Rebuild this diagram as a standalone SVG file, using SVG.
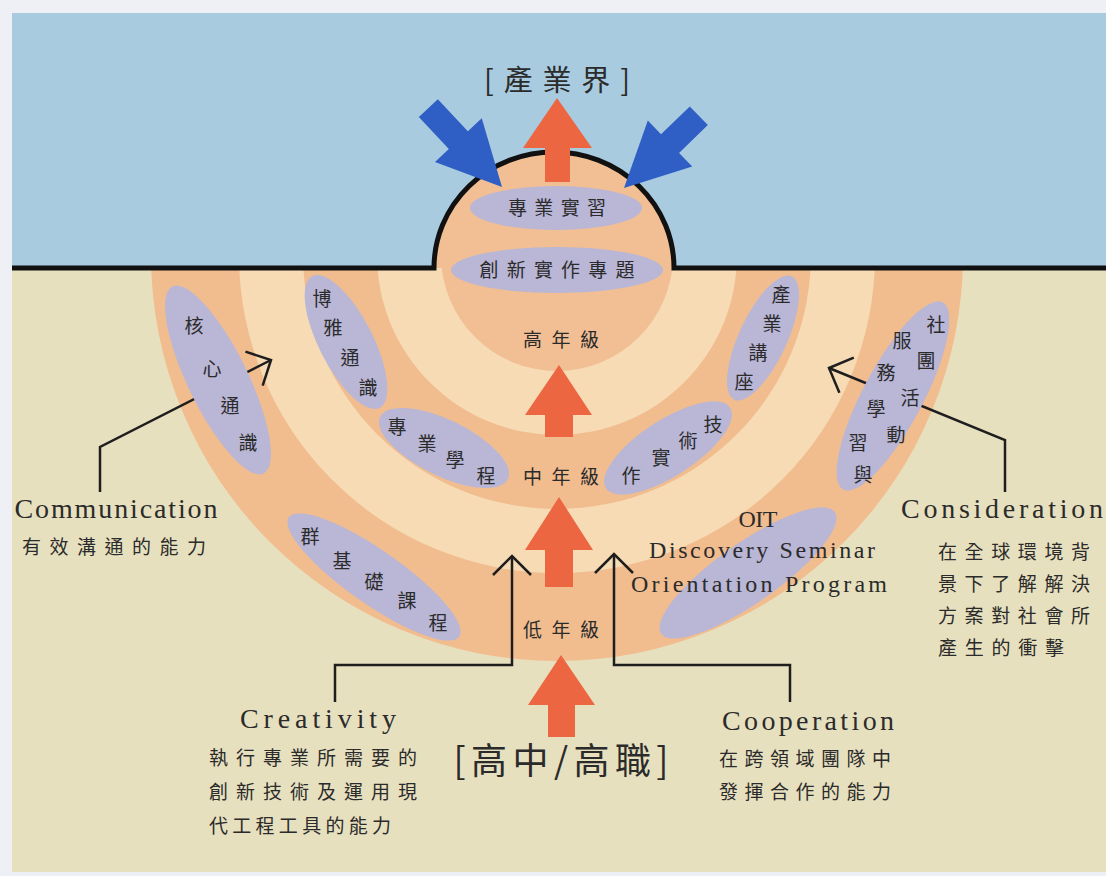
<svg xmlns="http://www.w3.org/2000/svg" width="1106" height="876" viewBox="0 0 1106 876">
<style>
.cjk{font-family:"Noto Sans CJK TC","Noto Sans CJK SC",sans-serif;fill:#2b2b2b}
.lat{font-family:"Liberation Serif",serif;fill:#2b2b2b}
.ch{font-family:"Noto Sans CJK TC","Noto Sans CJK SC",sans-serif;fill:#2b2b2b;font-size:19px;text-anchor:middle;dominant-baseline:central}
.ell{fill:#b9b6d6}
.conn{fill:none;stroke:#1e1e1e;stroke-width:2.5;marker-end:url(#chev)}
.up{fill:#ec6641}
.blue{fill:#2f5fc4}
.orange{fill:#f1bd8f}
.light{fill:#f6dbb5}
</style>
<defs>
<marker id="chev" markerUnits="userSpaceOnUse" viewBox="-25 -25 30 50" markerWidth="30" markerHeight="50" refX="0" refY="0" orient="auto">
<path d="M-19,-19 L0,0 L-19,19" fill="none" stroke="#1e1e1e" stroke-width="2.5"/>
</marker>
<clipPath id="below"><rect x="12" y="268" width="1094" height="604"/></clipPath>
</defs>
<rect width="1106" height="876" fill="#eef0f5"/>
<rect x="12" y="268" width="1094" height="604" fill="#e7e0bf"/>
<g id="rings" clip-path="url(#below)">
<circle cx="557" cy="255" r="406" class="orange"/>
<circle cx="557" cy="255" r="318" class="light"/>
<circle cx="557" cy="255" r="254" class="orange"/>
<circle cx="557" cy="255" r="180" class="light"/>
<circle cx="557" cy="255" r="116" fill="#f2bf94"/>
</g>
<rect x="12" y="13" width="1094" height="255" fill="#a9cbe0"/>
<path d="M434,268 A120,116 0 0 1 674,268 Z" fill="#f2bf94"/>
<path d="M12,268 H434 A120,116 0 0 1 674,268 H1106" fill="none" stroke="#111" stroke-width="5"/>

<g id="connectors">
<path class="conn" d="M100,492 V447 L271,360"/>
<path class="conn" d="M1005,492 V440 L829,368"/>
<path class="conn" d="M335,702 V665 H512 V556"/>
<path class="conn" d="M790,702 V665 H614 V554"/>
</g>

<g id="flow-arrows">
<polygon class="up" points="557,98 592,148 570,148 570,182 545,182 545,148 523,148"/>
<polygon class="up" points="559,365 592,415 573,415 573,437 545,437 545,415 525,415"/>
<polygon class="up" points="559,497 593,550 573,550 573,587 545,587 545,550 525,550"/>
<polygon class="up" points="561,655 595,705 575,705 575,737 548,737 548,705 528,705"/>
<path class="blue" transform="translate(502,187) rotate(47)" d="M0,0 L-64,-32 L-64,-13 L-108,-13 L-108,13 L-64,13 L-64,32 Z"/>
<path class="blue" transform="translate(624,188) rotate(136)" d="M0,0 L-64,-32 L-64,-13 L-104,-13 L-104,13 L-64,13 L-64,32 Z"/>
</g>

<g id="industry">
<text class="cjk" x="557" y="91" font-size="29" text-anchor="middle" textLength="146" lengthAdjust="spacing">[產業界]</text>
</g>
<g id="internship">
<ellipse class="ell" cx="556" cy="208" rx="86" ry="22"/>
<text class="cjk" x="557" y="215" font-size="19" text-anchor="middle" textLength="98" lengthAdjust="spacing">專業實習</text>
</g>
<g id="capstone">
<ellipse class="ell" cx="557" cy="270" rx="106" ry="23"/>
<text class="cjk" x="557" y="277" font-size="19" text-anchor="middle" textLength="155" lengthAdjust="spacing">創新實作專題</text>
</g>
<g id="senior">
<text class="cjk" x="561" y="347" font-size="19" text-anchor="middle" textLength="76" lengthAdjust="spacing">高年級</text>
</g>
<g id="junior">
<text class="cjk" x="561" y="484" font-size="19" text-anchor="middle" textLength="76" lengthAdjust="spacing">中年級</text>
</g>
<g id="freshman">
<text class="cjk" x="561" y="637" font-size="19" text-anchor="middle" textLength="76" lengthAdjust="spacing">低年級</text>
</g>
<g id="highschool">
<text class="cjk" x="561" y="774" font-size="36" text-anchor="middle" textLength="215" lengthAdjust="spacing">[高中/高職]</text>
</g>

<g id="core-general">
<ellipse class="ell" cx="218" cy="380" rx="104" ry="30" transform="rotate(64 218 380)"/>
<text class="ch" x="194" y="324">核</text>
<text class="ch" x="212" y="367">心</text>
<text class="ch" x="230" y="404">通</text>
<text class="ch" x="248" y="441">識</text>
</g>
<g id="liberal">
<ellipse class="ell" cx="346" cy="342" rx="74" ry="27" transform="rotate(63 346 342)"/>
<text class="ch" x="322" y="297">博</text>
<text class="ch" x="333" y="326">雅</text>
<text class="ch" x="350" y="356">通</text>
<text class="ch" x="368" y="386">識</text>
</g>
<g id="program">
<ellipse class="ell" cx="444" cy="448" rx="71" ry="28" transform="rotate(26 444 448)"/>
<text class="ch" x="397" y="425">專</text>
<text class="ch" x="427" y="442">業</text>
<text class="ch" x="455" y="458">學</text>
<text class="ch" x="486" y="474">程</text>
</g>
<g id="lecture">
<ellipse class="ell" cx="763" cy="338" rx="68" ry="24" transform="rotate(-65 763 338)"/>
<text class="ch" x="781" y="293">產</text>
<text class="ch" x="772" y="322">業</text>
<text class="ch" x="758" y="351">講</text>
<text class="ch" x="744" y="380">座</text>
</g>
<g id="practice">
<ellipse class="ell" cx="668" cy="448" rx="74" ry="28" transform="rotate(-33 668 448)"/>
<text class="ch" x="713" y="423">技</text>
<text class="ch" x="688" y="439">術</text>
<text class="ch" x="661" y="456">實</text>
<text class="ch" x="631" y="474">作</text>
</g>
<g id="club-service">
<ellipse class="ell" cx="893" cy="396" rx="106" ry="30" transform="rotate(-62 893 396)"/>
<text class="ch" x="936" y="323">社</text>
<text class="ch" x="926" y="359">團</text>
<text class="ch" x="910" y="396">活</text>
<text class="ch" x="896" y="433">動</text>
<text class="ch" x="863" y="473">與</text>
<text class="ch" x="902" y="339">服</text>
<text class="ch" x="886" y="371">務</text>
<text class="ch" x="876" y="407">學</text>
<text class="ch" x="858" y="441">習</text>
</g>
<g id="foundation">
<ellipse class="ell" cx="374" cy="577" rx="104" ry="27" transform="rotate(35 374 577)"/>
<text class="ch" x="310" y="535">群</text>
<text class="ch" x="342" y="559">基</text>
<text class="ch" x="374" y="580">礎</text>
<text class="ch" x="407" y="599">課</text>
<text class="ch" x="438" y="621">程</text>
</g>
<g id="oit">
<ellipse class="ell" cx="748" cy="573" rx="106" ry="30" transform="rotate(-35 748 573)"/>
<text class="lat" x="758" y="527" font-size="24" text-anchor="middle" textLength="39" lengthAdjust="spacing">OIT</text>
<text class="lat" x="762" y="558" font-size="24" text-anchor="middle" textLength="226" lengthAdjust="spacing">Discovery Seminar</text>
<text class="lat" x="759" y="592" font-size="24" text-anchor="middle" textLength="256" lengthAdjust="spacing">Orientation Program</text>
</g>

<g id="communication">
<text class="lat" x="116" y="518" font-size="28" text-anchor="middle" textLength="203" lengthAdjust="spacing">Communication</text>
<text class="cjk" x="114" y="554" font-size="19" text-anchor="middle" textLength="184" lengthAdjust="spacing">有效溝通的能力</text>
</g>
<g id="consideration">
<text class="lat" x="1002" y="518" font-size="28" text-anchor="middle" textLength="202" lengthAdjust="spacing">Consideration</text>
<text class="cjk" x="938" y="559" font-size="19" textLength="152" lengthAdjust="spacing">在全球環境背</text>
<text class="cjk" x="938" y="591" font-size="19" textLength="152" lengthAdjust="spacing">景下了解解決</text>
<text class="cjk" x="938" y="623" font-size="19" textLength="152" lengthAdjust="spacing">方案對社會所</text>
<text class="cjk" x="938" y="655" font-size="19" textLength="126" lengthAdjust="spacing">產生的衝擊</text>
</g>
<g id="creativity">
<text class="lat" x="318" y="728" font-size="28" text-anchor="middle" textLength="156" lengthAdjust="spacing">Creativity</text>
<text class="cjk" x="209" y="765" font-size="19" textLength="208" lengthAdjust="spacing">執行專業所需要的</text>
<text class="cjk" x="209" y="799" font-size="19" textLength="208" lengthAdjust="spacing">創新技術及運用現</text>
<text class="cjk" x="209" y="833" font-size="19" textLength="182" lengthAdjust="spacing">代工程工具的能力</text>
</g>
<g id="cooperation">
<text class="lat" x="808" y="730" font-size="28" text-anchor="middle" textLength="172" lengthAdjust="spacing">Cooperation</text>
<text class="cjk" x="719" y="766" font-size="19" textLength="172" lengthAdjust="spacing">在跨領域團隊中</text>
<text class="cjk" x="719" y="799" font-size="19" textLength="172" lengthAdjust="spacing">發揮合作的能力</text>
</g>
</svg>
